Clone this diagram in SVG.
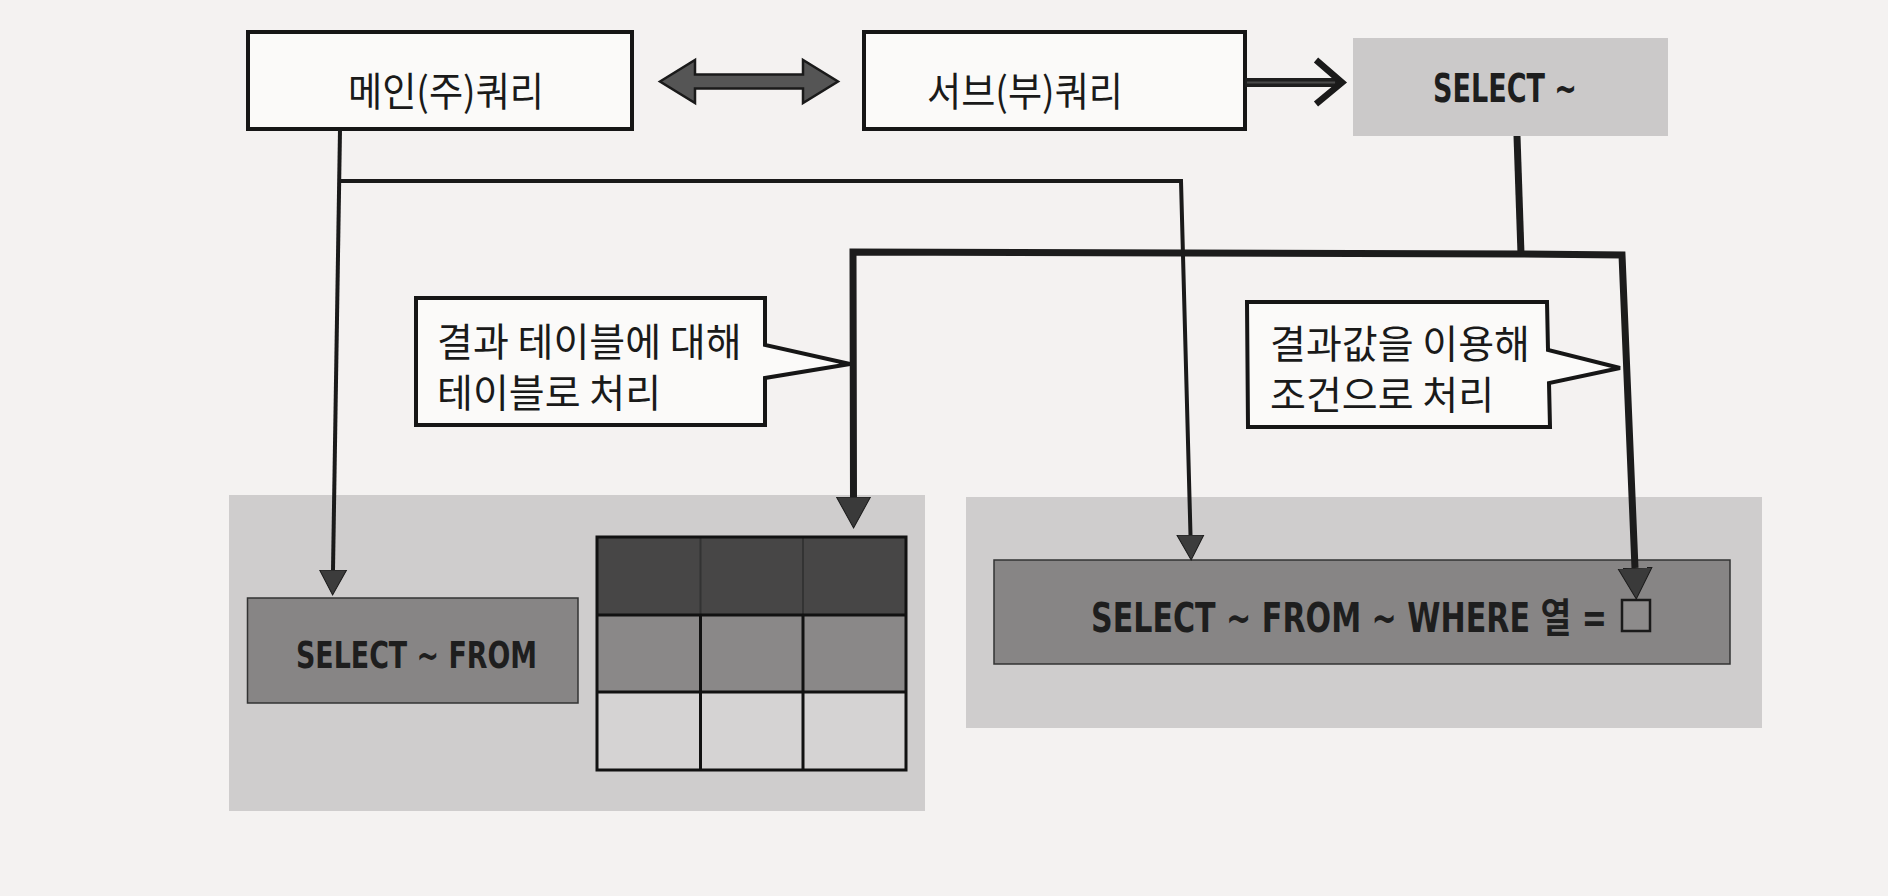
<svg xmlns="http://www.w3.org/2000/svg" width="1888" height="896" viewBox="0 0 1888 896">
  <style>
    .kr { font-family: "Noto Sans CJK KR", "Noto Sans", sans-serif; fill: #1a1a1a; font-weight: 400; }
    .sql { font-family: "DejaVu Sans Condensed", "DejaVu Sans", "Noto Sans CJK KR", sans-serif; font-weight: bold; fill: #1e1e1e; }
    .box { fill: #fbfaf9; stroke: #161616; stroke-width: 4; }
    .thin { fill: none; stroke: #1a1a1a; stroke-width: 4; stroke-linejoin: miter; }
    .thick { fill: none; stroke: #1c1c1c; stroke-width: 7; stroke-linejoin: miter; }
    .panel { fill: #cfcdcd; }
    .mid { fill: #878585; stroke: #333; stroke-width: 1.5; }
    .grid { fill: none; stroke: #111; stroke-width: 3; }
  </style>
  <defs>
    <marker id="arrThin" markerUnits="userSpaceOnUse" markerWidth="30" markerHeight="30" viewBox="0 0 30 30" refX="0" refY="15" orient="auto">
      <path d="M0,1.5 L25,15 L0,28.5 Z" fill="#3c3c3c" stroke="#1a1a1a" stroke-width="1"/>
    </marker>
    <marker id="arrThick" markerUnits="userSpaceOnUse" markerWidth="34" markerHeight="36" viewBox="0 0 34 36" refX="0" refY="18" orient="auto">
      <path d="M0,1 L31,18 L0,35 Z" fill="#3a3a3a" stroke="#1a1a1a" stroke-width="1"/>
    </marker>
  </defs>

  <rect x="0" y="0" width="1888" height="896" fill="#f4f2f1"/>

  <g id="left-panel">
    <rect class="panel" x="229" y="495" width="696" height="316"/>
  </g>
  <g id="right-panel">
    <rect class="panel" x="966" y="497" width="796" height="231"/>
  </g>

  <g id="main-query">
    <rect class="box" x="248" y="32" width="384" height="97"/>
    <text class="kr" x="446" y="106" font-size="40" text-anchor="middle" textLength="196" lengthAdjust="spacingAndGlyphs">메인(주)쿼리</text>
  </g>

  <g id="sub-query">
    <rect class="box" x="864" y="32" width="381" height="97"/>
    <text class="kr" x="1025" y="106" font-size="40" text-anchor="middle" textLength="196" lengthAdjust="spacingAndGlyphs">서브(부)쿼리</text>
  </g>

  <g id="select-top">
    <rect x="1353" y="38" width="315" height="98" fill="#cbc9c9"/>
    <text class="sql" x="1433" y="101.5" font-size="39" textLength="144" lengthAdjust="spacingAndGlyphs">SELECT ~</text>
  </g>

  <g id="callout-table">
    <path class="box" d="M416,298 L765,298 L765,345 L850,364 L765,378 L765,425 L416,425 Z"/>
    <text class="kr" x="437" y="356" font-size="39">결과 테이블에 대해</text>
    <text class="kr" x="437" y="407" font-size="39">테이블로 처리</text>
  </g>

  <g id="callout-condition">
    <path class="box" d="M1247,302 L1547,302 L1548,350 L1620,368 L1549,383 L1550,427 L1248,427 Z"/>
    <text class="kr" x="1270" y="358" font-size="39">결과값을 이용해</text>
    <text class="kr" x="1270" y="409" font-size="39">조건으로 처리</text>
  </g>

  <g id="select-from">
    <rect class="mid" x="247.5" y="598" width="330.5" height="105"/>
    <text class="sql" x="296" y="668" font-size="38" textLength="241" lengthAdjust="spacingAndGlyphs">SELECT ~ FROM</text>
  </g>

  <g id="result-table">
    <rect x="597" y="537" width="309" height="78" fill="#474646"/>
    <rect x="597" y="615" width="309" height="77" fill="#8a8888"/>
    <rect x="597" y="692" width="309" height="78" fill="#d5d3d3"/>
    <line x1="700.5" y1="537" x2="700.5" y2="615" stroke="#333" stroke-width="2"/>
    <line x1="803" y1="537" x2="803" y2="615" stroke="#333" stroke-width="2"/>
    <path class="grid" d="M597,537 H906 V770 H597 Z M597,615 H906 M597,692 H906 M700.5,615 V770 M803,615 V770"/>
  </g>

  <g id="select-where">
    <rect class="mid" x="994" y="560" width="736" height="104"/>
    <text class="sql" x="1091" y="632" font-size="40" textLength="516" lengthAdjust="spacingAndGlyphs">SELECT ~ FROM ~ WHERE 열 =</text>
    <rect x="1622" y="600" width="28" height="31" fill="#8d8b8b" stroke="#1a1a1a" stroke-width="2.5"/>
  </g>

  <g id="connectors">
    <path d="M660,81.5 L695,60 L695,74.5 L803,74.5 L803,60 L838,81.5 L803,103 L803,88.5 L695,88.5 L695,103 Z" fill="#555" stroke="#1a1a1a" stroke-width="2.5" stroke-linejoin="miter"/>
    <line x1="1245" y1="82.5" x2="1339" y2="82.5" stroke="#1e1e1e" stroke-width="9"/>
    <line x1="1247" y1="82.5" x2="1335" y2="82.5" stroke="#4a4a4a" stroke-width="2"/>
    <polyline points="1316,60 1342,82.5 1316,104" fill="none" stroke="#1a1a1a" stroke-width="6.5" stroke-linejoin="miter"/>
    <path class="thin" d="M340,130 L333,570" marker-end="url(#arrThin)"/>
    <path class="thin" d="M339.2,181 L1181,181 L1190.5,535" marker-end="url(#arrThin)"/>
    <path class="thick" d="M1517,136 L1521,254"/>
    <path class="thick" d="M1521,254 L853,252 L853.5,497" marker-end="url(#arrThick)"/>
    <path class="thick" d="M1521,254 L1622,255 L1635,568" marker-end="url(#arrThick)"/>
  </g>
</svg>
